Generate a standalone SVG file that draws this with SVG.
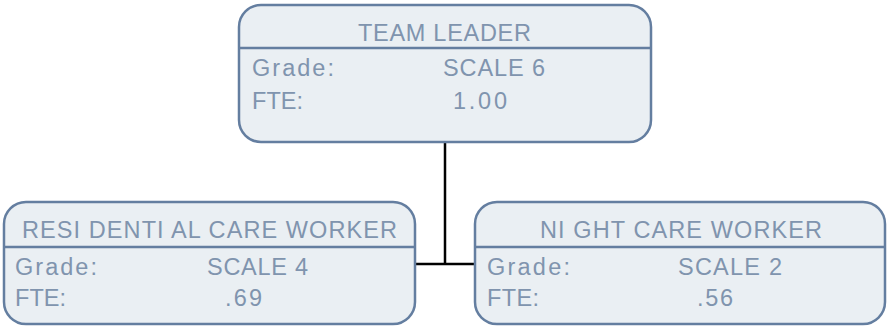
<svg xmlns="http://www.w3.org/2000/svg" width="887" height="328" viewBox="0 0 887 328">
<style>
.box{fill:#eaeff3;stroke:#647ea0;stroke-width:2.5}
.div{stroke:#647ea0;stroke-width:2.5}
text{font-family:"Liberation Sans",Arial,sans-serif;font-size:23.5px;fill:#8094ae}
.conn{stroke:#000;stroke-width:2.5;fill:none}
</style>
<rect width="887" height="328" fill="#fff"/>
<g id="connectors">
<path class="conn" d="M445,142 V264 M415,264 H476"/>
</g>
<g id="team-leader">
<rect class="box" x="239" y="5" width="412" height="137" rx="22"/>
<line class="div" x1="239" y1="48" x2="651" y2="48"/>
<text x="358" y="41" textLength="173" lengthAdjust="spacing">TEAM LEADER</text>
<text x="252" y="76" textLength="82" lengthAdjust="spacing">Grade:</text>
<text x="443" y="76" textLength="102" lengthAdjust="spacing">SCALE 6</text>
<text x="252" y="109" textLength="51" lengthAdjust="spacing">FTE:</text>
<text x="453" y="109" textLength="54" lengthAdjust="spacing">1.00</text>
</g>
<g id="residential-care-worker">
<rect class="box" x="4" y="202" width="411" height="122" rx="22"/>
<line class="div" x1="4" y1="247" x2="415" y2="247"/>
<text x="22" y="238" textLength="375" lengthAdjust="spacing">RESI DENTI AL CARE WORKER</text>
<text x="15" y="275" textLength="82" lengthAdjust="spacing">Grade:</text>
<text x="207" y="275" textLength="101" lengthAdjust="spacing">SCALE 4</text>
<text x="15" y="306" textLength="51" lengthAdjust="spacing">FTE:</text>
<text x="225" y="306" textLength="37" lengthAdjust="spacing">.69</text>
</g>
<g id="night-care-worker">
<rect class="box" x="475" y="202" width="410" height="122" rx="22"/>
<line class="div" x1="475" y1="247" x2="885" y2="247"/>
<text x="540" y="238" textLength="282" lengthAdjust="spacing">NI GHT CARE WORKER</text>
<text x="487" y="275" textLength="83" lengthAdjust="spacing">Grade:</text>
<text x="678" y="275" textLength="104" lengthAdjust="spacing">SCALE 2</text>
<text x="487" y="306" textLength="52" lengthAdjust="spacing">FTE:</text>
<text x="697" y="306" textLength="36" lengthAdjust="spacing">.56</text>
</g>
</svg>
